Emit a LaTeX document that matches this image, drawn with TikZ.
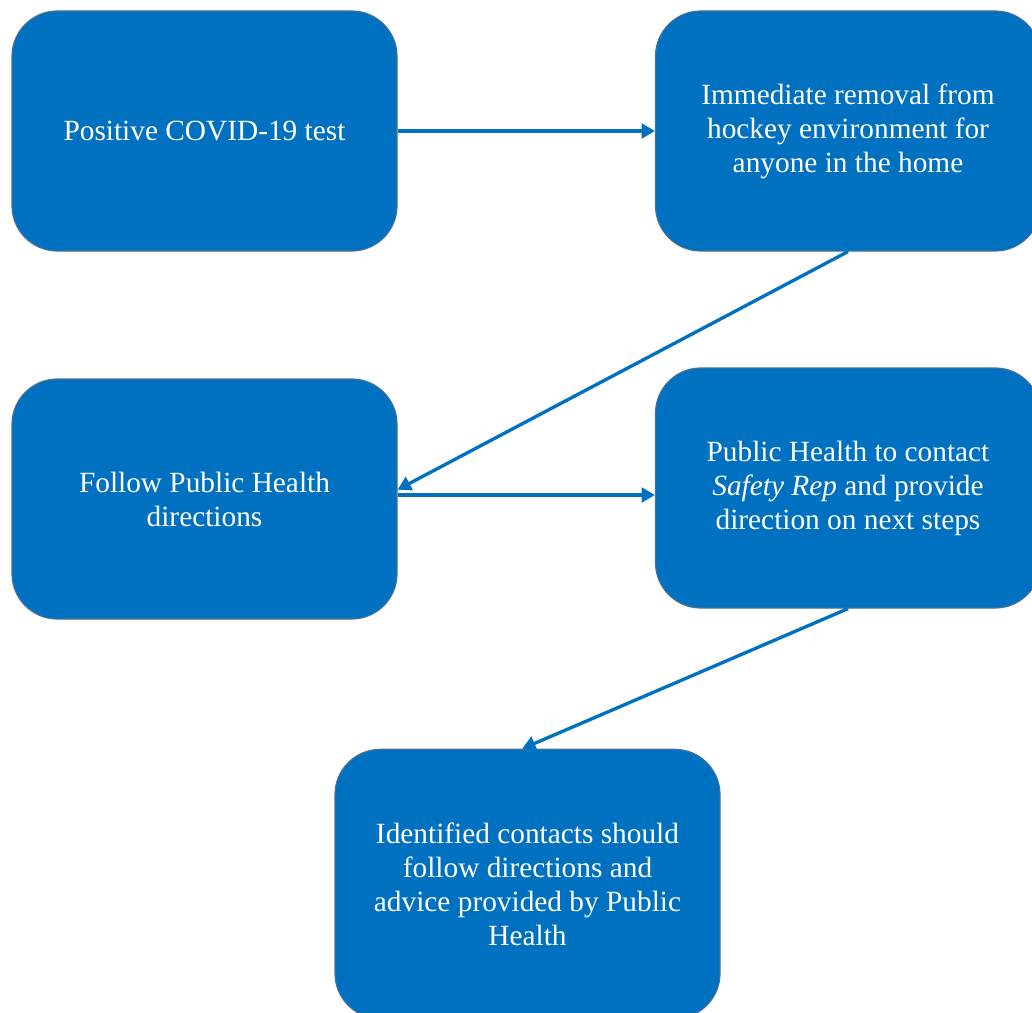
\documentclass[tikz,border=0pt]{standalone}
\usepackage{fontspec}
\setmainfont{Liberation Serif}
\usetikzlibrary{arrows.meta}
\definecolor{boxblue}{HTML}{0070C0}
\definecolor{boxedge}{HTML}{41719C}
\begin{document}
\begin{tikzpicture}[x=0.75pt,y=-0.75pt,stage/.style={shape=rectangle,rounded corners=34pt,draw=boxedge,line width=0.9pt,fill=boxblue,text=white,minimum width=288.75pt,minimum height=180pt,align=center,font=\fontsize{22}{25.5}\selectfont},stageL/.style={stage,minimum height=202pt},flow/.style={draw=boxblue,line width=2.5pt,-{Triangle[length=10pt,width=11pt]}}]
\def\xl{204.5};
\def\xr{848};
\def\xm{527.5};
\def\yt{131};

\useasboundingbox (0,0) rectangle (1032,1013);

\node[stage] (pos) at (\xl,\yt) {Positive COVID-19 test};
\node[stage] (removal) at (\xr,\yt) {Immediate removal from\\hockey environment for\\anyone in the home};

\node[stage] (follow) at (\xl,499) {Follow Public Health\\directions};
\node[stage] (contact) at (\xr,488) {Public Health to contact\\\textit{Safety Rep} and provide\\direction on next steps};

\node[stageL] (advice) at (\xm,884) {Identified contacts should\\follow directions and\\advice provided by Public\\Health};

\draw[flow] (pos.east) -- (removal.west);
\draw[flow] (removal.south) -- ([yshift=7pt]follow.east);
\draw[flow] ([yshift=3pt]follow.east) -- ([yshift=3pt]follow.east -| contact.west);
\draw[flow] (contact.south) -- ([xshift=-4pt]advice.north);
\end{tikzpicture}
\end{document}
